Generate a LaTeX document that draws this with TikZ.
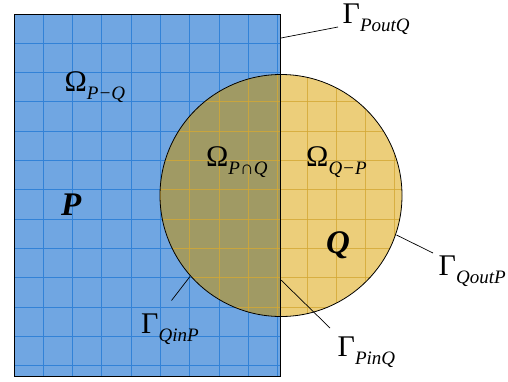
\documentclass[tikz,border=0pt]{standalone}
\usepackage{fontspec}
\setmainfont{Liberation Serif}
\usepackage{xcolor}

\definecolor{pblue}{RGB}{112,166,226}
\definecolor{pgridblue}{RGB}{50,130,215}
\definecolor{qyellow}{RGB}{236,206,122}
\definecolor{qolive}{RGB}{160,154,100}
\definecolor{qgridgold}{RGB}{212,168,52}

\newcommand{\bigsym}[2]{{\fontsize{30}{30}\selectfont #1}\raisebox{-8pt}{\fontsize{19}{19}\selectfont\itshape #2}}

\begin{document}
\begin{tikzpicture}[x=1pt,y=-1pt,
  region/.style={inner sep=0pt,anchor=base west},
  leader/.style={line width=0.7pt}]
\useasboundingbox (0,0) rectangle (508,381);
% set P
\fill[pblue] (14,14) rectangle (280,376);
\begin{scope}
\clip (14,14) rectangle (280,376);
\foreach \k in {1,...,9} \draw[pgridblue,line width=0.9pt] ({14+29.3*\k},14) -- ++(0,362);
\foreach \k in {1,...,12} \draw[pgridblue,line width=0.9pt] (14,{14+29.3*\k}) -- ++(266,0);
\end{scope}
% set Q
\fill[qyellow] (281,195.5) circle (121);
\begin{scope}
\clip (14,14) rectangle (280,376);
\fill[qolive] (281,195.5) circle (121);
\end{scope}
\begin{scope}
\clip (281,195.5) circle (121);
\foreach \k in {5,...,13} \draw[qgridgold,opacity=0.8,line width=0.9pt] ({14+29.3*\k},60) -- ++(0,280);
\foreach \k in {2,...,10} \draw[qgridgold,opacity=0.8,line width=0.9pt] (150,{14+29.3*\k}) -- ++(260,0);
\end{scope}
\draw[line width=0.8pt] (14,14) rectangle (280,376);
\draw[line width=0.8pt] (281,195.5) circle (121);
% regions
\node[region] (omegapq) at (64.5,91.7) {\bigsym{Ω}{P−Q}};
\node[region] (omegapnq) at (206,166.7) {\bigsym{Ω}{P∩Q}};
\node[region] (omegaqp) at (306,166.7) {\bigsym{Ω}{Q−P}};
\node[region] (labelP) at (61,215) {\fontsize{33}{33}\selectfont\bfseries\itshape P};
\node[region] (labelQ) at (326,253) {\fontsize{33}{33}\selectfont\bfseries\itshape Q};
% boundaries
\node[region] (gpoutq) at (342.5,23.5) {\bigsym{Γ}{PoutQ}};
\node[region] (gqoutp) at (438.5,275) {\bigsym{Γ}{QoutP}};
\node[region] (gqinp) at (141,333) {\bigsym{Γ}{QinP}};
\node[region] (gpinq) at (337.5,356.5) {\bigsym{Γ}{PinQ}};
\coordinate (poutq-foot) at (281,38);
\coordinate (poutq-tip) at (338,27);
\coordinate (qoutp-foot) at (396.5,235);
\coordinate (qoutp-tip) at (433,253);
\coordinate (qinp-foot) at (190,276.5);
\coordinate (qinp-tip) at (171.5,300.5);
\coordinate (pinq-foot) at (281,280);
\coordinate (pinq-tip) at (330,328);
\draw[leader] (poutq-foot) -- (poutq-tip);
\draw[leader] (qoutp-foot) -- (qoutp-tip);
\draw[leader] (qinp-foot) -- (qinp-tip);
\draw[leader] (pinq-foot) -- (pinq-tip);
\end{tikzpicture}
\end{document}
